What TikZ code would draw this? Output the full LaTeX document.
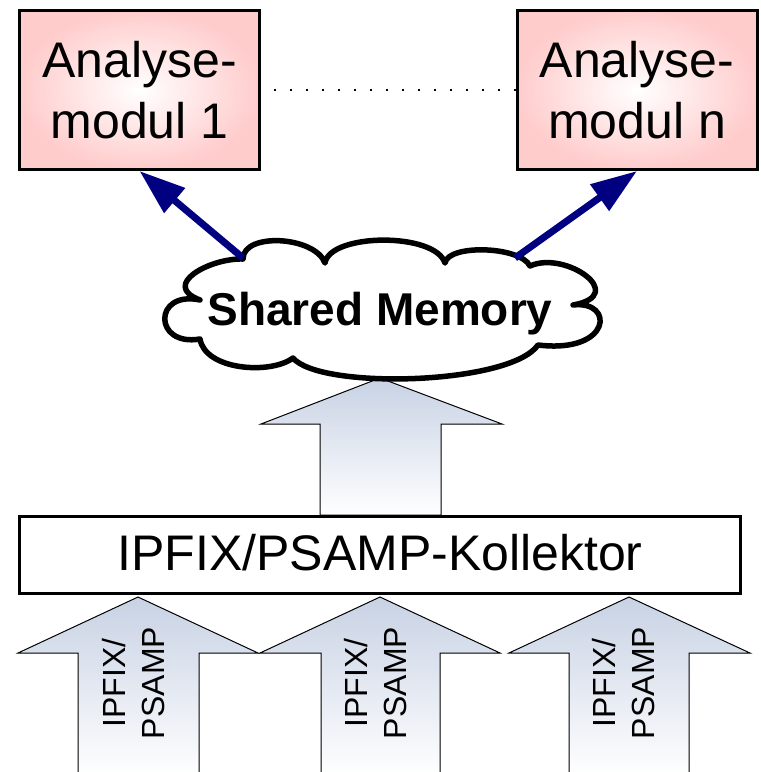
\documentclass[tikz,border=0pt]{standalone}
\usepackage{fontspec}
\setmainfont{Liberation Sans}
\usetikzlibrary{arrows.meta}
\definecolor{modpink}{RGB}{255,204,204}
\definecolor{arrblue}{RGB}{200,210,228}
\definecolor{navyarrow}{RGB}{0,0,128}
\begin{document}
\begin{tikzpicture}[x=1pt,y=-1pt,
  modbox/.style={draw=black, line width=3pt, inner color=white, outer color=modpink,
    minimum width=240pt, minimum height=159pt, inner sep=0pt, align=center,
    font=\fontsize{50}{61}\selectfont},
  kolbox/.style={draw=black, line width=3pt, fill=white, minimum width=721pt,
    minimum height=77pt, inner sep=0pt, text height=36pt, text depth=6pt,
    font=\fontsize{50}{60}\selectfont},
  blockarrow/.style={draw=black, line width=1pt, line join=miter, top color=arrblue, bottom color=white},
  cloudline/.style={draw=black, line width=5.5pt, line join=round, fill=white},
  bluearrow/.style={draw=navyarrow, line width=7pt, -{Triangle[length=46pt,width=31pt]}},
  dotline/.style={draw=black, line width=2.6pt, line cap=butt, dash pattern=on 2.6pt off 13.4pt, dash phase=3.2pt},
  ipfixtext/.style={rotate=90, align=center, inner sep=0pt, font=\fontsize{32}{39}\selectfont}
]
\useasboundingbox (0,0) rectangle (761,772);

% modules
\node[modbox] (m1) at (139.5,90) {Analyse-\\modul 1};
\node[modbox] (mn) at (637,90) {Analyse-\\modul n};
\draw[dotline] (m1.east) -- (mn.west);

% big block arrow from collector to shared memory
\draw[blockarrow] (320,515) -- (320,424) -- (261,424) -- (380,378) -- (502,424) -- (441,424) -- (441,515) -- cycle;

% cloud
\draw[cloudline] (200,300)
  .. controls (160,285) and (210,258) .. (243,259)
  .. controls (243,232) and (315,236) .. (325,263)
  .. controls (330,233) and (435,232) .. (445,263)
  .. controls (448,244) and (520,246) .. (530,266)
  .. controls (565,250) and (630,295) .. (573,305)
  .. controls (615,300) and (612,354) .. (538,345)
  .. controls (510,385) and (320,390) .. (293,358)
  .. controls (270,375) and (205,370) .. (200,339)
  .. controls (153,347) and (153,290) .. (200,300) -- cycle;
\node[font=\bfseries\fontsize{46}{55}\selectfont, anchor=base, inner sep=0pt] (sm) at (380,325) {Shared Memory};
\coordinate (cl1) at (243,258);
\coordinate (cl2) at (515,258);

% arrows to modules
\draw[bluearrow] (cl1) -- (m1.south);
\draw[bluearrow] (cl2) -- (mn.south);

% small input arrows
\draw[blockarrow] (78,776) -- (78,653) -- (18,653) -- (138,597) -- (258,653) -- (199,653) -- (199,776) -- cycle;
\draw[blockarrow] (321,776) -- (321,653) -- (260,653) -- (380,597) -- (500,653) -- (440,653) -- (440,776) -- cycle;
\draw[blockarrow] (569,776) -- (569,653) -- (509,653) -- (629,597) -- (750,653) -- (689,653) -- (689,776) -- cycle;
\node[ipfixtext] (in1) at (133.5,683) {IPFIX/\\PSAMP};
\node[ipfixtext] (in2) at (375.5,683) {IPFIX/\\PSAMP};
\node[ipfixtext] (in3) at (624,683) {IPFIX/\\PSAMP};

% collector
\node[kolbox] (kol) at (380,555) {IPFIX/PSAMP-Kollektor};
\end{tikzpicture}
\end{document}
